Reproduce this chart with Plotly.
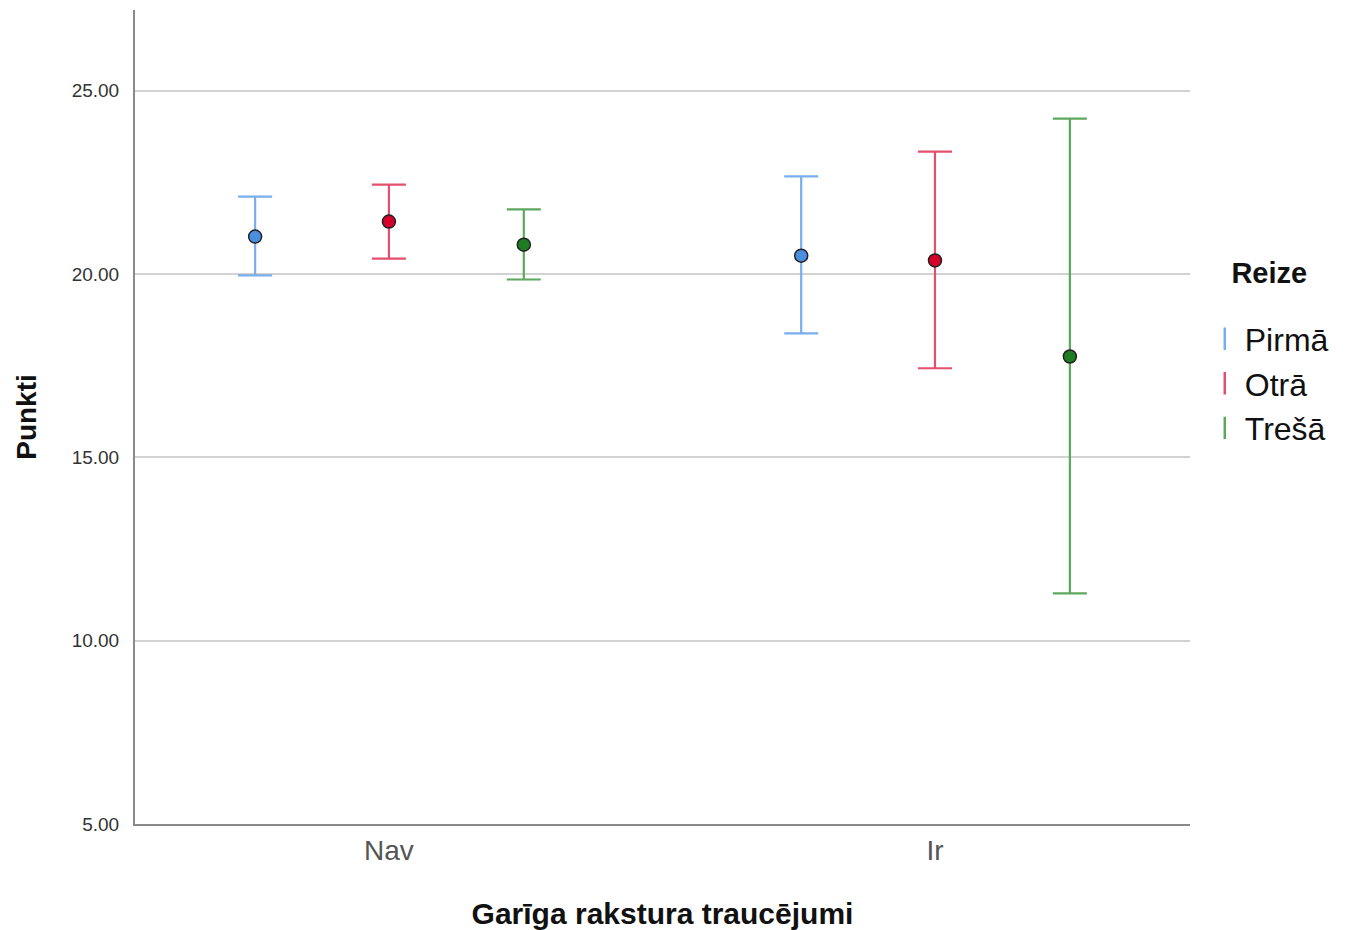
import plotly.graph_objects as go

categories = ["Nav", "Ir"]
series = ["Pirmā", "Otrā", "Trešā"]
means = {
    "Pirmā": [21.02, 20.50],
    "Otrā": [21.43, 20.37],
    "Trešā": [20.80, 17.75],
}
upper = {
    "Pirmā": [22.11, 22.66],
    "Otrā": [22.44, 23.34],
    "Trešā": [21.76, 24.24],
}
lower = {
    "Pirmā": [19.96, 18.38],
    "Otrā": [20.42, 17.43],
    "Trešā": [19.85, 11.29],
}
y_ticks = [5, 10, 15, 20, 25]

bar_colors = {"Pirmā": "#78aef0", "Otrā": "#e3506f", "Trešā": "#5da85d"}
fill_colors = {"Pirmā": "#4a8ee0", "Otrā": "#d4002b", "Trešā": "#1e7d22"}
offsets = {"Pirmā": -0.245, "Otrā": 0.0, "Trešā": 0.247}

fig = go.Figure()
for s in series:
    xs = [i + offsets[s] for i in range(len(categories))]
    fig.add_trace(go.Scatter(
        x=xs, y=means[s], mode="markers", showlegend=False,
        marker=dict(size=13, color=fill_colors[s], line=dict(color="#222222", width=1.5)),
        error_y=dict(type="data", symmetric=False,
                     array=[u - m for u, m in zip(upper[s], means[s])],
                     arrayminus=[m - l for m, l in zip(means[s], lower[s])],
                     color=bar_colors[s], thickness=2.2, width=17),
    ))
for s in series:
    fig.add_trace(go.Scatter(
        x=[None], y=[None], mode="markers", name=s,
        marker=dict(symbol="line-ns-open", size=24, color=bar_colors[s],
                    line=dict(color=bar_colors[s], width=2.5)),
    ))

fig.update_layout(
    width=1357, height=930,
    margin=dict(l=127, r=175, t=2, b=114),
    plot_bgcolor="white", paper_bgcolor="white",
    font=dict(family="Liberation Sans, Arial, sans-serif", color="#222222"),
    legend=dict(
        title=dict(text="<span style='font-size:29px'><b>Reize</b></span><br> ",
                   font=dict(size=22, color="#111111"), side="top center"),
        font=dict(size=32, color="#111111"),
        x=1.014, y=0.70, xanchor="left", yanchor="top",
        itemwidth=30, tracegroupgap=0, bgcolor="rgba(0,0,0,0)",
    ),
)
fig.update_xaxes(
    range=[-0.465, 1.467], tickvals=list(range(len(categories))), ticktext=categories,
    showgrid=False, zeroline=False, showline=True, linecolor="#8a8a8a", linewidth=2,
    ticks="", tickfont=dict(size=28, color="#555555"),
    title=dict(text="<b>Garīga rakstura traucējumi</b>", font=dict(size=30, color="#111111"), standoff=38),
)
fig.update_yaxes(
    range=[5, 27.2], tickvals=y_ticks, ticktext=[f"{v:.2f}" for v in y_ticks],
    showgrid=True, gridcolor="#d2d2d2", gridwidth=2, zeroline=False,
    showline=True, linecolor="#8a8a8a", linewidth=2,
    ticks="", ticklabelstandoff=10, tickfont=dict(size=19, color="#333333"),
    title=dict(text="<b>Punkti</b>", font=dict(size=28, color="#111111"), standoff=27),
)
fig.write_html("out.html")
